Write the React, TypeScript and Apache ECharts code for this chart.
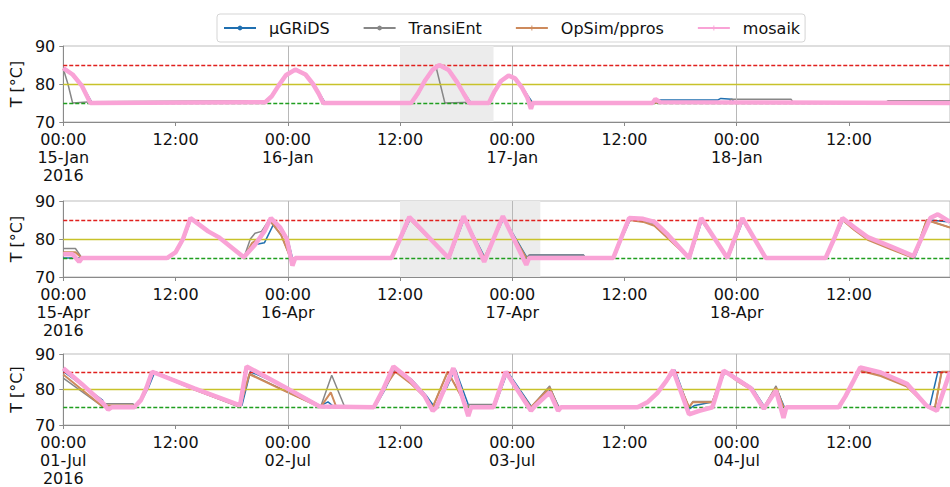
import React, { useEffect, useRef } from 'react';
import * as echarts from 'echarts';

// ---------- data ----------
const seriesNames = ['μGRiDS', 'TransiEnt', 'OpSim/ppros', 'mosaik'];
const year = '2016';
const janDays = ['15-Jan', '16-Jan', '17-Jan', '18-Jan'];
const aprDays = ['15-Apr', '16-Apr', '17-Apr', '18-Apr'];
const julDays = ['01-Jul', '02-Jul', '03-Jul', '04-Jul'];
const limitValues = [85, 80, 75];
const dayLines = [24, 48, 72];
const janShade = [36, 46];
const aprShade = [36, 51];
const julShade: number[] = [];

// hours since first midnight, temperature °C
const janGrids = [[0,84],[1,82.5],[2,79.8],[3.1,75],[21.6,75.2],[22.3,76.8],[23,79.5],[23.8,82.3],[24.9,83.6],[26,82.5],[26.8,80],[27.4,77.5],[28,75],[37.3,75],[38,77.5],[38.8,81],[39.6,83.8],[40.3,84.8],[41.3,83.5],[42.2,80.5],[42.9,77.5],[43.6,75],[45.6,75],[46.2,78],[46.9,80.8],[47.7,82.2],[48.4,81.5],[49.1,79.2],[49.7,76.8],[50.2,75],[63,75],[63.3,75.8],[70,75.8],[70.3,76.2],[71.5,76],[71.7,75.2],[94.8,75.2]];
const janTrans = [[0,84],[0.5,80],[1,75],[3,75.3],[21.6,75.6],[22.3,77],[23,79.8],[23.8,82.6],[24.8,84],[25.9,82.6],[26.7,80],[27.3,77.5],[27.8,75.3],[37.2,75.3],[37.9,77.5],[38.7,81],[39.4,83.5],[39.9,84],[40.8,75],[45.5,75.3],[46.1,78],[46.8,80.8],[47.6,82.2],[48.3,81.5],[49,79.2],[49.6,76.8],[50,75.3],[71.2,75.3],[71.4,76],[77.8,76],[78,75.3],[88,75.3],[88.2,75.6],[94.8,75.6]];
const janOpsim = [[0,84],[1,82.3],[2,79.5],[3,75],[21.6,75.2],[22.3,76.8],[23,79.5],[23.8,82.3],[24.8,83.6],[25.9,82.5],[26.7,80],[27.3,77.5],[27.8,75],[37.2,75],[37.9,77.5],[38.7,81],[39.5,83.8],[40.2,84.8],[41.2,83.5],[42.1,80.5],[42.8,77.5],[43.4,75],[45.5,75],[46.1,78],[46.8,80.8],[47.6,82],[48.3,81.5],[49,79.2],[49.6,76.8],[50,75],[94.8,75]];
const janMosaik = [[0,84.2],[1,82.5],[2,79.5],[2.9,75],[21.6,75.2],[22.3,76.8],[23,79.5],[23.8,82.3],[24.8,83.8],[25.9,82.5],[26.7,80],[27.3,77.5],[27.8,75],[37.2,75],[37.9,77.5],[38.7,81],[39.5,83.8],[40.2,85],[41.2,83.7],[42.1,80.5],[42.8,77.5],[43.4,75],[45.5,75],[46.1,78],[46.8,80.8],[47.6,82.2],[48.3,81.5],[49,79.2],[49.6,76.5],[50,73.5],[50.2,75],[63,75],[63.3,76],[63.8,75.2],[94.8,75]];

const aprGrids = [[0,75],[2,75],[11.2,75],[12.1,76.5],[12.9,80],[13.7,85.3],[15.6,82],[16.7,80.5],[19.4,75],[20.2,78],[20.7,78.6],[21.5,79],[22.5,84],[23.4,82.5],[24,80],[24.5,75],[35.2,75],[36.1,80],[37.1,85.3],[41.3,75],[42.9,85.5],[45.1,75],[47.1,85.5],[49.6,75],[49.9,75.8],[55.6,75.8],[55.8,75],[58.9,75],[59.7,80],[60.6,85],[62,84.8],[63.3,84],[64.6,81],[67,75],[68.3,85],[71.1,75],[72.7,85],[75.2,75],[81.6,75],[82.5,80],[83.4,85],[84.7,82.6],[86.1,80.2],[88.6,77.6],[91,75],[92.6,85],[94.8,84.5]];
const aprTrans = [[0,77.5],[1.3,77.5],[2,75],[11.1,75],[12,76.5],[12.8,80],[13.6,85.3],[15.5,82],[16.6,80.5],[19.3,75],[20,80],[20.5,81.5],[21.2,82],[22,85],[23.3,81],[24.3,75],[35.1,75],[36,80],[37,85.5],[41.2,75],[42.8,85.5],[45,75],[47,85.5],[49.5,75],[49.8,75.8],[55.6,75.8],[55.8,75],[58.8,75],[59.6,80],[60.5,85],[62,84.8],[63.2,84],[64.5,81],[66.9,75],[68.2,85],[71,75],[72.6,85],[75.1,75],[81.5,75],[82.4,80],[83.3,85],[84.6,82.5],[86,80],[88.5,77.5],[90.9,75],[92.3,85],[94.8,83]];
const aprOpsim = [[0,76.5],[1.3,76.5],[2,75],[11.1,75],[12,76.5],[12.8,80],[13.6,85.3],[15.5,82],[16.6,80.5],[19.3,75],[20.2,79],[21.2,80.5],[22.1,85],[23.3,81],[24.3,75],[35.1,75],[36,80],[37,85.3],[41.2,75],[42.8,85.5],[45,75],[47,85.5],[49.5,75],[58.8,75],[59.6,80],[60.5,85],[62,84.5],[63.2,83.5],[64.5,80.5],[66.9,75],[68.2,85],[71,75],[72.6,85],[75.1,75],[81.5,75],[82.4,80],[83.3,85],[84.6,82.3],[86,79.8],[88.5,77.3],[90.9,75],[92.3,85],[94.8,83]];
const aprMosaik = [[0,76],[1,76],[1.7,74],[2,75],[11.1,75],[12,76.5],[12.8,80],[13.6,85.5],[15.5,82],[16.6,80.5],[19.3,75.2],[20.5,78.5],[21.5,82],[22.2,85.5],[23.2,83],[23.9,80],[24.5,73],[24.8,75],[35.1,75],[36,80],[37,85.8],[41.2,75],[42.8,86],[45,74],[47,86],[49.5,73.2],[49.8,75],[58.8,75],[59.6,80],[60.5,85.5],[62,85.3],[63.2,84.5],[64.5,81.5],[66.9,75],[68.2,85.5],[71,75],[72.6,85.5],[75.1,75],[81.5,75],[82.4,80],[83.3,85.5],[84.6,83],[86,80.5],[88.5,78],[90.9,75.5],[92.7,85.5],[93.5,86.5],[94.8,84.5]];

const julGrids = [[0,85.1],[4.2,77],[4.4,75],[7.6,75],[8.4,77],[9.1,80.5],[9.8,85],[14,80.5],[19.1,75.5],[20,85],[23.6,81],[27.5,75.4],[28.3,76.5],[28.9,75.2],[33.3,75],[34.4,80],[35.5,86],[37.3,82.7],[38.8,78.3],[39.7,75],[41,80.5],[41.9,85.8],[43.4,75],[46.1,75],[47.5,85],[50.1,75],[52.1,80],[53,75],[61.5,75],[62.6,76.5],[63.6,79],[64.6,82.5],[65.4,85.5],[66.9,74.5],[67.5,75.5],[69.4,76.5],[70.8,85.3],[72.3,82.8],[73.7,80.4],[75,75],[76.3,80],[77.1,75],[83,75],[83.7,78],[84.5,82],[85.3,86],[87.5,84.8],[90.3,81.6],[92.6,74.8],[93.5,85],[94.8,85]];
const julTrans = [[0,83.2],[4.3,75],[4.6,76],[7.4,76],[7.7,75.5],[8.3,77],[8.9,80.5],[9.5,85],[14,80],[18.9,75],[19.9,84.5],[23.6,79.8],[27.5,75],[28.7,84],[30.1,75],[33.2,75],[34.2,80],[35.5,85.5],[37.1,82],[38.6,78],[39.5,75],[40.3,80],[41.1,85],[43.2,75],[43.4,75.8],[46,75.8],[47.3,85],[50,75],[52,81],[52.9,75],[61.4,75],[62.5,76.5],[63.5,79],[64.5,82.5],[65.2,85.5],[66.9,75],[67.3,76.6],[69.4,76.6],[70.6,85.3],[72.1,82.5],[73.5,80],[74.9,75],[76.2,81],[77,75],[82.9,75],[83.6,78],[84.4,82],[85.2,85.5],[87.4,84],[90.2,81],[92.5,75],[93.2,75],[93.9,85],[94.8,85]];
const julOpsim = [[0,84.2],[4.3,75],[4.6,75.5],[7.4,75.5],[7.7,75.3],[8.3,77],[8.9,80.5],[9.5,85],[14,80],[18.9,75.2],[19.9,84.3],[23.6,79.7],[27.5,75],[28.6,79.2],[29.2,75],[33.2,75],[34.2,80],[35.5,85],[37.1,81.8],[38.6,78],[39.5,75],[40.3,80],[41.1,85],[43.2,75],[46,75.3],[47.3,85],[50,75],[52,80.5],[52.9,75],[61.4,75],[62.5,76.5],[63.5,79],[64.5,82.5],[65.2,85.5],[66.9,75],[67.3,76.4],[69.4,76.4],[70.6,85.3],[72.1,82.3],[73.5,80],[74.9,75],[76.2,80.5],[77,75],[82.9,75],[83.6,78],[84.4,82],[85.2,85.3],[87.4,83.8],[90.2,80.8],[92.5,75],[93.2,75],[93.9,85],[94.8,85]];
const julMosaik = [[0,86],[2,81.5],[4.3,76],[4.8,74.3],[5.2,75],[7.6,75],[8.3,77],[8.9,80.5],[9.5,85],[14,80.3],[18.9,75.5],[19.6,86.5],[23.6,80.8],[27.4,75.2],[33.2,75],[34.2,80],[35.3,86.5],[37.1,82.7],[38.6,78.3],[39.5,74],[39.9,75],[40.8,80.5],[41.7,86],[43.3,72.5],[43.6,75],[46,75],[47.3,85],[50,74],[50.3,75],[52,79.2],[52.9,74],[53.2,75],[61.4,75],[62.5,76.5],[63.5,79],[64.5,82.5],[65.2,85.5],[66.9,73],[68,74],[69.4,75],[70.6,85.3],[72.1,82.8],[73.5,80.4],[74.9,74.6],[76.2,79.7],[77,72],[77.3,75],[82.9,75],[83.6,78],[84.4,82],[85.2,86.2],[87.4,84.8],[90.2,81.6],[92.3,75.4],[93.4,74],[94.8,85]];

// ---------- styles ----------
const FONT = 'DejaVu Sans';
const COLORS = ['#1f6fb0', '#878787', '#cd8a5c', '#f9a3d6'];
const WIDTHS = [1.5, 1.5, 2, 4.5];
const CROSS = 'path://M4,0h2v4h4v2h-4v4h-2v-4h-4v-2h4z';
const SYMBOLS = ['circle', 'circle', CROSS, CROSS];
const LIMIT_COLORS = ['#e0201e', '#c8c22a', '#1f9e1f'];
const LIMIT_DASHED = [true, false, true];
const TOPS = [46, 201, 354];
const PANEL_H = 76;
const X_MAX = 94.8;

const panels = [
  { days: janDays, data: [janGrids, janTrans, janOpsim, janMosaik], shade: janShade },
  { days: aprDays, data: [aprGrids, aprTrans, aprOpsim, aprMosaik], shade: aprShade },
  { days: julDays, data: [julGrids, julTrans, julOpsim, julMosaik], shade: julShade },
];

export default function App() {
  const ref = useRef<HTMLDivElement>(null);
  useEffect(() => {
    if (!ref.current) return;
    const chart = echarts.init(ref.current, undefined, { renderer: 'svg' });
    const series: any[] = [];
    panels.forEach((p, i) => {
      series.push({
        type: 'line', xAxisIndex: i, yAxisIndex: i, data: [], z: 1, silent: true,
        markArea: p.shade.length ? {
          silent: true, itemStyle: { color: '#ececec' },
          data: [[{ xAxis: p.shade[0] }, { xAxis: p.shade[1] }]],
        } : undefined,
        markLine: {
          silent: true, symbol: ['none', 'none'], label: { show: false },
          lineStyle: { color: '#b8b8b8', type: 'solid', width: 1 },
          data: dayLines.map((d) => ({ xAxis: d })),
        },
      });
      p.data.forEach((d, k) => {
        series.push({
          name: seriesNames[k], type: 'line', xAxisIndex: i, yAxisIndex: i, data: d,
          showSymbol: false, symbol: SYMBOLS[k], symbolSize: 5,
          lineStyle: { color: COLORS[k], width: WIDTHS[k] }, itemStyle: { color: COLORS[k] },
          z: 2 + k, silent: true,
        });
      });
      limitValues.forEach((v, j) => {
        series.push({
          type: 'line', xAxisIndex: i, yAxisIndex: i, data: [], z: 10, silent: true,
          markLine: {
            silent: true, symbol: ['none', 'none'], label: { show: false },
            lineStyle: { color: LIMIT_COLORS[j], type: LIMIT_DASHED[j] ? [4, 2] : 'solid', width: 1.3, opacity: 1 },
            emphasis: { disabled: true },
            data: [{ yAxis: v }],
          },
        });
      });
    });
    chart.setOption({
      animation: false,
      textStyle: { fontFamily: FONT },
      legend: {
        data: seriesNames, left: 217, top: 14, itemWidth: 32, itemHeight: 6, itemGap: 33,
        padding: [6, 5, 6, 6], borderColor: '#d5d5d5', borderWidth: 1, borderRadius: 3,
        textStyle: { fontSize: 16, color: '#111', fontFamily: FONT, padding: [0, 0, 0, 8] },
      },
      grid: panels.map((_, i) => ({
        left: 61, right: 0, top: TOPS[i], height: PANEL_H, show: true,
        borderColor: '#bdbdbd', borderWidth: 1, backgroundColor: 'transparent',
      })),
      xAxis: panels.map((p, i) => ({
        type: 'value', gridIndex: i, min: 0, max: X_MAX, interval: 12,
        axisLine: { lineStyle: { color: '#8a8a8a' } },
        axisTick: { length: 4, lineStyle: { color: '#8a8a8a' } },
        splitLine: { show: false },
        axisLabel: {
          showMaxLabel: false, fontSize: 16, color: '#111', lineHeight: 18, margin: 8, fontFamily: FONT,
          formatter: (v: number) => {
            const k = Math.round(v / 12);
            if (k % 2 === 1) return '12:00';
            const d = p.days[k / 2] || '';
            return k === 0 ? `00:00\n${d}\n${year}` : `00:00\n${d}`;
          },
        },
      })),
      yAxis: panels.map((_, i) => ({
        type: 'value', gridIndex: i, min: 70, max: 90, interval: 10,
        name: 'T [°C]', nameLocation: 'middle', nameGap: 27, nameRotate: 90,
        nameTextStyle: { fontSize: 16, color: '#111', fontFamily: FONT },
        axisLine: { show: true, lineStyle: { color: '#8a8a8a' } },
        axisTick: { show: true, length: 4, lineStyle: { color: '#8a8a8a' } },
        splitLine: { show: false },
        axisLabel: { fontSize: 16, color: '#111', margin: 8, lineHeight: 10, fontFamily: FONT },
      })),
      series,
    });
    return () => chart.dispose();
  }, []);
  return <div ref={ref} style={{ position: 'absolute', left: 0, top: 0, width: 950, height: 487 }} />;
}
